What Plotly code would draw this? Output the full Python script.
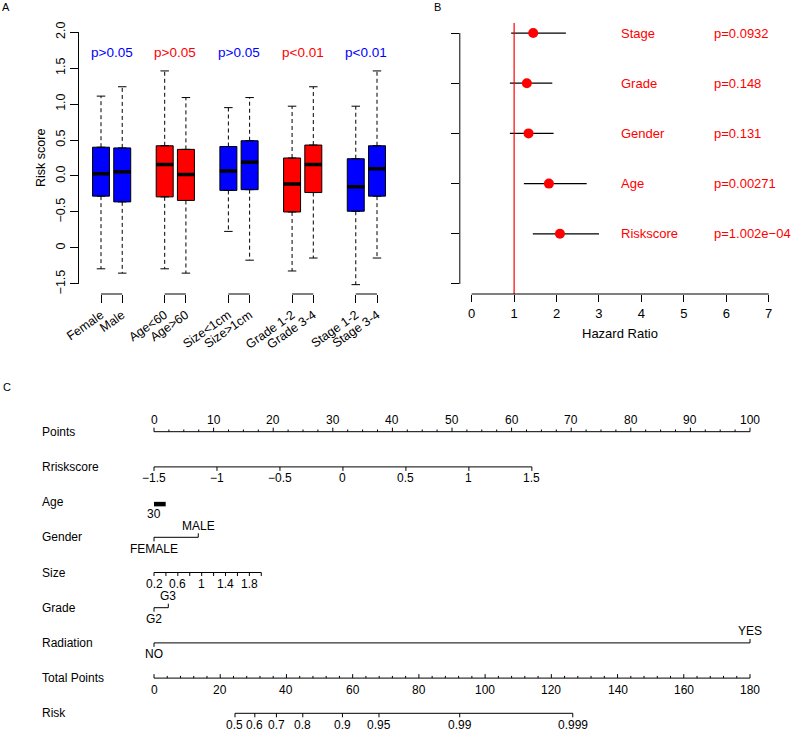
import numpy as np
import plotly.graph_objects as go

W, H = 795, 732
FONT = "Liberation Sans, Arial, Helvetica, sans-serif"
MINUS = "\u2212"

# ---------------- Panel A data (box plots of risk score) ----------------
groups = ["Female", "Male", "Age<60", "Age>60", "Size<1cm", "Size>1cm",
          "Grade 1-2", "Grade 3-4", "Stage 1-2", "Stage 3-4"]
positions = [1, 2, 4, 5, 7, 8, 10, 11, 13, 14]
box_colors = ["#0000FF", "#0000FF", "#FF0000", "#FF0000", "#0000FF", "#0000FF",
              "#FF0000", "#FF0000", "#0000FF", "#0000FF"]
q1 = [-0.28, -0.36, -0.29, -0.34, -0.20, -0.19, -0.50, -0.23, -0.49, -0.28]
med = [0.03, 0.06, 0.16, 0.02, 0.07, 0.19, -0.11, 0.16, -0.15, 0.10]
q3 = [0.40, 0.39, 0.42, 0.37, 0.41, 0.49, 0.25, 0.43, 0.24, 0.42]
lo = [-1.29, -1.35, -1.29, -1.35, -0.77, -1.17, -1.32, -1.14, -1.51, -1.14]
hi = [1.11, 1.24, 1.46, 1.09, 0.95, 1.09, 0.97, 1.24, 0.97, 1.46]
pair_p = ["p>0.05", "p>0.05", "p>0.05", "p<0.01", "p<0.01"]
pair_colors = ["#0000FF", "#FF0000", "#0000FF", "#FF0000", "#0000FF"]
p_label_y = 1.71
yticks_A = [-1.5, -1.0, -0.5, 0.0, 0.5, 1.0, 1.5, 2.0]
yticktext_A = [MINUS + "1.5", "0", MINUS + "0.5", "0.0", "0.5", "1.0", "1.5", "2.0"]

# ---------------- Panel B data (forest plot) ----------------
forest_vars = ["Stage", "Grade", "Gender", "Age", "Riskscore"]
forest_rows = [5, 4, 3, 2, 1]
hr = [1.45, 1.30, 1.34, 1.82, 2.08]
hr_lo = [0.93, 0.90, 0.90, 1.23, 1.44]
hr_hi = [2.22, 1.90, 1.93, 2.71, 3.00]
forest_p = ["p=0.0932", "p=0.148", "p=0.131", "p=0.00271", "p=1.002e" + MINUS + "04"]
hr_ticks = [0, 1, 2, 3, 4, 5, 6, 7]
forest_yticks = [0, 1, 2, 3, 4, 5]

# ---------------- Panel C data (nomogram) ----------------
row_names = ["Points", "Rriskscore", "Age", "Gender", "Size", "Grade",
             "Radiation", "Total Points", "Risk"]
points_major = [0, 10, 20, 30, 40, 50, 60, 70, 80, 90, 100]
points_minor_step = 2.5
riskscore_ticks = [-1.5, -1.0, -0.5, 0.0, 0.5, 1.0, 1.5]
riskscore_max_points = 63.4
age_labels = ["30"]
age_points_span = [0.0, 1.96]
gender_levels = ["FEMALE", "MALE"]
gender_points = [0.0, 7.43]
size_ticks = [0.2, 0.4, 0.6, 0.8, 1.0, 1.2, 1.4, 1.6, 1.8, 2.0]
size_labels = [0.2, 0.6, 1.0, 1.4, 1.8]
size_max_points = 18.0
grade_levels = ["G2", "G3"]
grade_points = [0.0, 2.4]
radiation_levels = ["NO", "YES"]
radiation_points = [0.0, 100.0]
total_major = [0, 20, 40, 60, 80, 100, 120, 140, 160, 180]
total_minor_step = 4
total_max = 180
risk_probs = [0.5, 0.6, 0.7, 0.8, 0.9, 0.95, 0.99, 0.999]
risk_labels = ["0.5", "0.6", "0.7", "0.8", "0.9", "0.95", "0.99", "0.999"]
risk_intercept_total = 24.46   # total points at risk 0.5
risk_slope_total = 14.77       # total points per logit unit

fig = go.Figure()

# =============== Panel A ===============
for i, p in enumerate(positions):
    fig.add_trace(go.Box(
        x=[p], q1=[q1[i]], median=[med[i]], q3=[q3[i]],
        lowerfence=[q1[i]], upperfence=[q3[i]],
        fillcolor=box_colors[i], line=dict(color="black", width=1),
        width=0.8, boxpoints=False, hoverinfo="skip",
        xaxis="x", yaxis="y"))

wx, wy, cx, cy, mx, my = [], [], [], [], [], []
for i, p in enumerate(positions):
    wx += [p, p, None, p, p, None]
    wy += [q3[i], hi[i], None, q1[i], lo[i], None]
    cx += [p - 0.2, p + 0.2, None, p - 0.2, p + 0.2, None]
    cy += [hi[i], hi[i], None, lo[i], lo[i], None]
    mx += [p - 0.4, p + 0.4, None]
    my += [med[i], med[i], None]
fig.add_trace(go.Scatter(x=wx, y=wy, mode="lines",
                         line=dict(color="black", width=1, dash="4px,3px"),
                         xaxis="x", yaxis="y", hoverinfo="skip"))
fig.add_trace(go.Scatter(x=cx, y=cy, mode="lines", line=dict(color="black", width=1),
                         xaxis="x", yaxis="y", hoverinfo="skip"))
fig.add_trace(go.Scatter(x=mx, y=my, mode="lines", line=dict(color="black", width=3.5),
                         xaxis="x", yaxis="y", hoverinfo="skip"))

shapes = []
annotations = []


def ann(**kw):
    kw.setdefault("showarrow", False)
    kw.setdefault("xanchor", "center")
    kw.setdefault("yanchor", "middle")
    annotations.append(kw)


# pair axis segments
for k in range(5):
    a, b = positions[2 * k], positions[2 * k + 1]
    shapes.append(dict(type="line", xref="x", yref="y domain", x0=a, x1=b, y0=0, y1=0,
                       line=dict(color="black", width=1)))
    ann(xref="x", yref="y", x=(a + b) / 2, y=p_label_y, text=pair_p[k],
        font=dict(color=pair_colors[k], size=13.5, family=FONT))
# y axis line
shapes.append(dict(type="line", xref="x domain", yref="y", x0=0, x1=0,
                   y0=yticks_A[0], y1=yticks_A[-1], line=dict(color="black", width=1)))
ann(xref="paper", yref="paper", x=41 / W, y=1 - 158 / H, text="Risk score",
    textangle=-90, font=dict(size=12.5, family=FONT))

# =============== Panel B ===============
ex, ey = [], []
for i in range(len(forest_vars)):
    ex += [hr_lo[i], hr_hi[i], None]
    ey += [forest_rows[i], forest_rows[i], None]
fig.add_trace(go.Scatter(x=ex, y=ey, mode="lines", line=dict(color="black", width=1.3),
                         xaxis="x2", yaxis="y2", hoverinfo="skip"))
fig.add_trace(go.Scatter(x=hr, y=forest_rows, mode="markers",
                         marker=dict(color="#FF0000", size=10),
                         xaxis="x2", yaxis="y2", hoverinfo="skip"))
shapes.append(dict(type="line", xref="x2", yref="y2 domain", x0=1, x1=1, y0=0, y1=1,
                   line=dict(color="#FF0000", width=1.2)))
shapes.append(dict(type="line", xref="x2", yref="y2 domain", x0=hr_ticks[0], x1=hr_ticks[-1],
                   y0=0, y1=0, line=dict(color="black", width=1)))
shapes.append(dict(type="line", xref="x2 domain", yref="y2", x0=0, x1=0,
                   y0=forest_yticks[0], y1=forest_yticks[-1], line=dict(color="black", width=1)))
for i in range(len(forest_vars)):
    ann(xref="x2", yref="y2", x=3.47, y=forest_rows[i], text=forest_vars[i], xanchor="left",
        font=dict(color="#FF0000", size=13, family=FONT))
    ann(xref="x2", yref="y2", x=5.66, y=forest_rows[i], text=forest_p[i], xanchor="left",
        font=dict(color="#FF0000", size=13, family=FONT))
ann(xref="paper", yref="paper", x=620 / W, y=1 - 333 / H, text="Hazard Ratio",
    font=dict(size=13, family=FONT))

# =============== Panel C (nomogram) ===============
ROWPX = 35.2
ROW0PX = 431.7
PX0, PX100 = 154.0, 750.0
PPP = (PX100 - PX0) / 100.0


def tick_units(px):
    return px / ROWPX


def add_line(x0, x1, row, width=1):
    fig.add_trace(go.Scatter(x=[x0, x1], y=[row, row], mode="lines",
                             line=dict(color="black", width=width),
                             xaxis="x3", yaxis="y3", hoverinfo="skip"))


def add_ticks(xs, row, length_px, up):
    tx, ty = [], []
    d = tick_units(length_px) * (-1 if up else 1)
    for x in xs:
        tx += [x, x, None]
        ty += [row, row + d, None]
    fig.add_trace(go.Scatter(x=tx, y=ty, mode="lines", line=dict(color="black", width=1),
                             xaxis="x3", yaxis="y3", hoverinfo="skip"))


def add_labels(xs, texts, row, above):
    for x, t in zip(xs, texts):
        ann(xref="x3", yref="y3", x=x, y=row, text=t,
            yshift=11.5 if above else -11.5, font=dict(size=12, family=FONT))


for r, name in enumerate(row_names):
    ann(xref="paper", yref="y3", x=40 / W, y=r, text=name, xanchor="left",
        font=dict(size=12, family=FONT))

# Points
r = 0
add_line(points_major[0], points_major[-1], r)
minor = [v for v in np.arange(points_major[0], points_major[-1] + 0.01, points_minor_step)
         if v % 10 != 0]
add_ticks(points_major, r, 4, up=True)
add_ticks(minor, r, 2.2, up=True)
add_labels(points_major, [str(v) for v in points_major], r, above=True)

# Rriskscore
r = 1
rs_pos = [(v - riskscore_ticks[0]) / (riskscore_ticks[-1] - riskscore_ticks[0]) * riskscore_max_points
          for v in riskscore_ticks]
add_line(rs_pos[0], rs_pos[-1], r)
add_ticks(rs_pos, r, 4, up=False)
add_labels(rs_pos, [("%g" % v).replace("-", MINUS) for v in riskscore_ticks], r, above=False)

# Age
r = 2
fig.add_trace(go.Scatter(x=age_points_span, y=[r + tick_units(2), r + tick_units(2)], mode="lines",
                         line=dict(color="black", width=4.5), xaxis="x3", yaxis="y3",
                         hoverinfo="skip"))
add_labels([age_points_span[0]], age_labels, r, above=False)

# Gender
r = 3
add_line(gender_points[0], gender_points[1], r)
add_ticks([gender_points[0]], r, 4, up=False)
add_ticks([gender_points[1]], r, 4, up=True)
add_labels([gender_points[0]], [gender_levels[0]], r, above=False)
add_labels([gender_points[1]], [gender_levels[1]], r, above=True)

# Size
r = 4
sz_pos = [(v - size_ticks[0]) / (size_ticks[-1] - size_ticks[0]) * size_max_points for v in size_ticks]
add_line(sz_pos[0], sz_pos[-1], r)
add_ticks(sz_pos, r, 3.5, up=False)
szl_pos = [(v - size_ticks[0]) / (size_ticks[-1] - size_ticks[0]) * size_max_points for v in size_labels]
add_labels(szl_pos, ["%g" % v for v in size_labels], r, above=False)

# Grade
r = 5
add_line(grade_points[0], grade_points[1], r)
add_ticks([grade_points[0]], r, 4, up=False)
add_ticks([grade_points[1]], r, 4, up=True)
add_labels([grade_points[0]], [grade_levels[0]], r, above=False)
add_labels([grade_points[1]], [grade_levels[1]], r, above=True)

# Radiation
r = 6
add_line(radiation_points[0], radiation_points[1], r)
add_ticks([radiation_points[0]], r, 4, up=False)
add_ticks([radiation_points[1]], r, 4, up=True)
add_labels([radiation_points[0]], [radiation_levels[0]], r, above=False)
add_labels([radiation_points[1]], [radiation_levels[1]], r, above=True)

# Total Points
r = 7
tp = lambda v: v * 100.0 / total_max
add_line(tp(total_major[0]), tp(total_major[-1]), r)
tminor = [v for v in np.arange(0, total_max + 0.01, total_minor_step) if v % 20 != 0]
add_ticks([tp(v) for v in total_major], r, 4, up=True)
add_ticks([tp(v) for v in tminor], r, 2.2, up=True)
add_labels([tp(v) for v in total_major], [str(v) for v in total_major], r, above=False)

# Risk
r = 8
risk_pos = [tp(risk_intercept_total + risk_slope_total * np.log(p / (1 - p))) for p in risk_probs]
add_line(risk_pos[0], risk_pos[-1], r)
add_ticks(risk_pos, r, 4, up=False)
add_labels(risk_pos, risk_labels, r, above=False)

# panel letters
for letter, px, py in [("A", 6, 7), ("B", 437, 7), ("C", 7, 387)]:
    ann(xref="paper", yref="paper", x=px / W, y=1 - py / H, text=letter,
        font=dict(size=11, family=FONT))

# =============== Layout ===============
axis_common = dict(showgrid=False, zeroline=False, showline=False, ticks="outside",
                   tickcolor="black", tickwidth=1, automargin=False,
                   tickfont=dict(color="black", family=FONT))

fig.update_layout(
    width=W, height=H, margin=dict(l=0, r=0, t=0, b=0, pad=0, autoexpand=False),
    paper_bgcolor="white", plot_bgcolor="rgba(0,0,0,0)", showlegend=False,
    boxmode="overlay", font=dict(family=FONT, color="black"),
    xaxis=dict(axis_common, domain=[78.5 / W, 399.5 / W], range=[-0.06, 15.06],
               tickvals=positions, ticktext=groups, tickangle=-35, ticklen=8,
               tickfont=dict(size=12.5, family=FONT, color="black"), anchor="y"),
    yaxis=dict(axis_common, domain=[1 - 294 / H, 1 - 22 / H], range=[-1.64, 2.14],
               tickvals=yticks_A, ticktext=yticktext_A, tickangle=-90, ticklen=8,
               tickfont=dict(size=12.5, family=FONT, color="black"), anchor="x"),
    xaxis2=dict(axis_common, domain=[459.8 / W, 780.6 / W], range=[-0.28, 7.28],
                tickvals=hr_ticks, ticklen=7, tickfont=dict(size=13, family=FONT, color="black"),
                anchor="y2"),
    yaxis2=dict(axis_common, domain=[1 - 294 / H, 1 - 23 / H], range=[-0.2, 5.2],
                tickvals=forest_yticks, ticklen=8, showticklabels=False, anchor="x2"),
    xaxis3=dict(visible=False, domain=[0, 1], range=[-PX0 / PPP, (W - PX0) / PPP], anchor="y3"),
    yaxis3=dict(visible=False, domain=[0, 1],
                range=[(H - ROW0PX) / ROWPX, -ROW0PX / ROWPX], anchor="x3"),
    shapes=shapes, annotations=annotations,
)

fig.write_html("out.html", config={"displayModeBar": False},
               post_script="document.body.style.margin='0';document.body.style.overflow='hidden';")
